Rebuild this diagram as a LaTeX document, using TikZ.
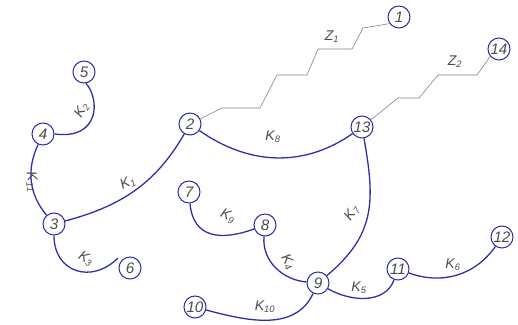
\documentclass[tikz,border=0pt]{standalone}
\usepackage{fontspec}
\setmainfont{Liberation Sans}
\definecolor{edgeblue}{rgb}{0.18,0.18,0.68}
\definecolor{zgray}{rgb}{0.5,0.5,0.5}
\definecolor{txtgray}{rgb}{0.3,0.3,0.3}

\begin{document}
\begin{tikzpicture}[x=0.03cm,y=0.03cm,font=\large\itshape,
  vtx/.style={draw=edgeblue,circle,line width=0.9pt,minimum size=0.66cm,inner sep=0pt,text=txtgray,
    font=\fontsize{13}{15}\selectfont\itshape},
  branch/.style={draw=edgeblue,line width=1.1pt},
  zline/.style={draw=zgray,line width=0.5pt},
  lbl/.style={text=txtgray,inner sep=1pt}]
\useasboundingbox (0,0) rectangle (518,324);
% vertices
\node[vtx] (n1) at (399,307) {1};
\node[vtx] (n2) at (190,200) {2};
\node[vtx] (n3) at (54,100) {3};
\node[vtx] (n4) at (43,190) {4};
\node[vtx] (n5) at (84,252) {5};
\node[vtx] (n6) at (130,56) {6};
\node[vtx] (n7) at (189,132) {7};
\node[vtx] (n8) at (265,99) {8};
\node[vtx] (n9) at (318,41) {9};
\node[vtx] (n10) at (195,17) {10};
\node[vtx] (n11) at (398,55) {11};
\node[vtx] (n12) at (502,87) {12};
\node[vtx] (n13) at (362,197) {13};
\node[vtx] (n14) at (499,275) {14};
\coordinate (k3end) at (118,66);
% stepped lines
\draw[zline] (n2) -- (222,216) -- (260,216) -- (277,249) -- (307,249) -- (318,275)
  -- (352,275) -- (363,296) -- (n1.-145);
\draw[zline] (n13) -- (398,226) -- (419,226) -- (438,249) -- (477,249) -- (n14.-140);
\node[lbl] (z1) at (332,287) {Z\textsubscript{1}};
\node[lbl] (z2) at (455,262) {Z\textsubscript{2}};
% branches
\draw[branch] (n3) to[out=15,in=-120] (n2);
\draw[branch] (n4.east) .. controls (100,184) and (100,225) .. (n5.-80);
\draw[branch] (n3) to[out=-90,in=-135,looseness=1.4] (k3end);
\draw[branch] (n4) to[out=-115,in=130] (n3);
\draw[branch] (n2) to[out=-35,in=-145] (n13);
\draw[branch] (n13) to[out=-80,in=40,looseness=1.15] (n9);
\draw[branch] (n7) to[out=-85,in=200,looseness=1.3] (n8);
\draw[branch] (n8) to[out=-95,in=175] (n9);
\draw[branch] (n10) to[out=-15,in=-115] (n9);
\draw[branch] (n9) to[out=-30,in=-110] (n11);
\draw[branch] (n11) to[out=-20,in=-125] (n12);
% branch labels
\node[lbl,rotate=25] (l1) at (128,141) {K\textsubscript{1}};
\node[lbl,rotate=60] (l2) at (82,214) {K\textsubscript{2}};
\node[lbl,rotate=-80] (l11) at (32,142) {K\textsubscript{11}};
\node[lbl,rotate=-30] (l3) at (86,65) {K\textsubscript{3}};
\node[lbl] (l8) at (273,187) {K\textsubscript{8}};
\node[lbl,rotate=55] (l7) at (352,111) {K\textsubscript{7}};
\node[lbl,rotate=-25] (l9) at (228,108) {K\textsubscript{9}};
\node[lbl,rotate=-60] (l4) at (288,62) {K\textsubscript{4}};
\node[lbl] (l10) at (265,17) {K\textsubscript{10}};
\node[lbl] (l5) at (359,36) {K\textsubscript{5}};
\node[lbl] (l6) at (453,59) {K\textsubscript{6}};
\end{tikzpicture}
\end{document}
